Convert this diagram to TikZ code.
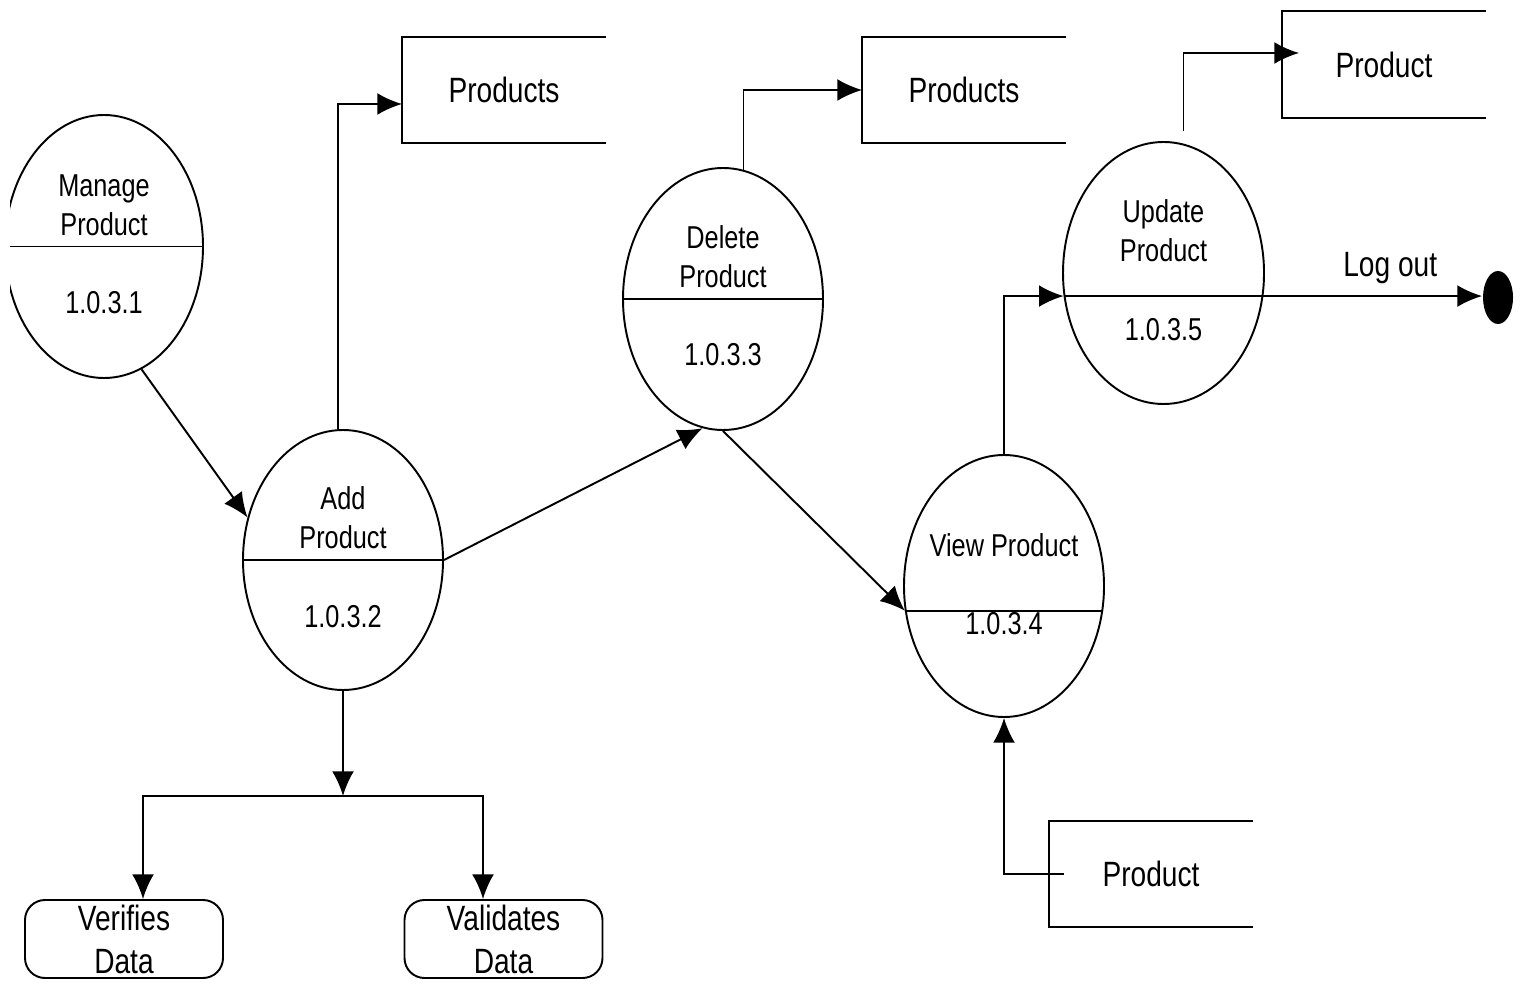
\documentclass[tikz,border=0pt]{standalone}
\usepackage{fontspec}
\setmainfont{Liberation Sans}[FakeStretch=0.8]
\usetikzlibrary{shapes.geometric,arrows.meta}

\begin{document}
\begin{tikzpicture}[>={Latex[length=7pt,width=6.2pt]},line width=0.55pt,
  proc/.style={draw, ellipse, minimum width=2cm, minimum height=2.62cm, inner sep=0pt},
  ptext/.style={align=center, inner sep=0pt, font=\fontsize{9}{11}\selectfont},
  store/.style={minimum width=2.02cm, minimum height=1.04cm, inner sep=0pt, font=\fontsize{10}{12}\selectfont},
  term/.style={draw, rounded corners=0.2cm, minimum width=1.98cm, minimum height=0.78cm, inner sep=0pt, align=center, font=\fontsize{10}{12.2}\selectfont}]
  \useasboundingbox (0,0) rectangle (15.25,9.84);

  % processes
  \begin{scope}
    \clip (0.1,0) rectangle (15.25,9.84);
    \node[proc, minimum width=1.98cm, minimum height=2.63cm] (manage) at (1.04,7.375) {};
    \draw (manage.west) -- (manage.east);
  \end{scope}
  \node[ptext] (manage-t) at ([yshift=0.415cm]manage.center) {Manage\\Product};
  \node[ptext] (manage-n) at ([yshift=-0.56cm]manage.center) {1.0.3.1};

  \node[proc, minimum height=2.6cm] (add) at (3.43,4.24) {};
  \draw (add.west) -- (add.east);
  \node[ptext] (add-t) at ([yshift=0.42cm]add.center) {Add\\Product};
  \node[ptext] (add-n) at ([yshift=-0.57cm]add.center) {1.0.3.2};

  \node[proc] (delete) at (7.23,6.85) {};
  \draw (delete.west) -- (delete.east);
  \node[ptext] (delete-t) at ([yshift=0.42cm]delete.center) {Delete\\Product};
  \node[ptext] (delete-n) at ([yshift=-0.56cm]delete.center) {1.0.3.3};

  \node[proc] (view) at (10.04,3.98) {};
  \draw (view.194) -- (view.-14);
  \node[ptext] (view-t) at ([yshift=0.41cm]view.center) {View Product};
  \node[ptext] (view-n) at ([yshift=-0.38cm]view.center) {1.0.3.4};

  \node[proc, minimum width=2.01cm] (update) at (11.635,7.11) {};
  \node[ptext] (update-t) at ([yshift=0.42cm]update.center) {Update\\Product};
  \node[ptext] (update-n) at ([yshift=-0.57cm]update.center) {1.0.3.5};

  % data stores
  \node[store] (prodA) at (5.04,8.94) {Products};
  \node[store] (prodB) at (9.64,8.94) {Products};
  \node[store, minimum height=1.05cm] (prodC) at (13.84,9.195) {Product};
  \node[store] (prodD) at (11.51,1.10) {Product};
  \foreach \s in {prodA,prodB,prodC,prodD}
    \draw (\s.north east) -- (\s.north west) -- (\s.south west) -- (\s.south east);

  % checks
  \node[term] (verify) at (1.24,0.45) {Verifies\\Data};
  \node[term] (validate) at (5.035,0.45) {Validates\\Data};

  \node[ellipse, fill=black, minimum width=0.3cm, minimum height=0.53cm, inner sep=0pt] (stop) at (14.98,6.865) {};

  % flows
  \draw[->] (manage.-73) -- (add.156);
  \draw[->] ([xshift=-0.05cm]add.north) |- ([yshift=-0.14cm]prodA.west);
  \draw[->] (add.east) -- (delete.-99);
  \draw[->] (delete.81) |- (prodB.west);
  \draw[->] (delete.south) -- (view.194);
  \draw[->] (view.north) |- (update.193.5);
  \draw[->] ([shift={(0.2,0.1)}]update.north) |- ([shift={(0.17,0.115)}]prodC.west);
  \draw[->] (update.193.5) -- (update.-13.5) -- (stop.west |- update.-13.5)
    node[pos=0.58, above, font=\fontsize{10}{12}\selectfont] {Log out};
  \draw[->] ([xshift=0.15cm]prodD.west) -| (view.south);

  \coordinate (split) at (3.43,1.88);
  \draw[->] (add.south) -- (split);
  \draw[->] (split) -| ([xshift=0.19cm]verify.north);
  \draw[->] (split) -| ([xshift=-0.205cm]validate.north);
\end{tikzpicture}
\end{document}
